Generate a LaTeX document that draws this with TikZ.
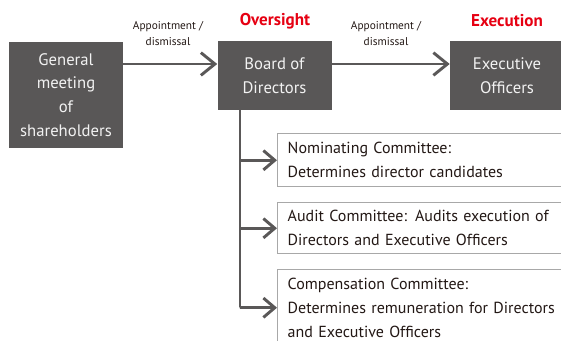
\documentclass[tikz,border=0pt]{standalone}
\usepackage{fontspec}
\setmainfont{PT Sans}
\usetikzlibrary{arrows.meta}
\definecolor{boxgray}{HTML}{595757}
\definecolor{linegray}{HTML}{5A5858}
\definecolor{bordergray}{HTML}{A8A8A8}
\definecolor{redtxt}{HTML}{E60012}
\definecolor{txtdark}{HTML}{231815}
\tikzset{
  darkbox/.style={fill=boxgray, draw=none, text=white!95!black, align=center,
    minimum width=114*0.75pt, inner sep=0pt, font=\fontsize{12.5}{18}\selectfont},
  combox/.style={draw=bordergray, line width=1.1pt, fill=white, anchor=north west,
    text width=300*0.75pt, align=left, inner xsep=7.5pt, inner ysep=0pt,
    text=txtdark, font=\fontsize{12}{18}\selectfont},
  conn/.style={draw=linegray, line width=2.2pt},
  arr/.style={conn, -{Straight Barb[length=10.5pt, width=17pt]}},
  arrsm/.style={conn, -{Straight Barb[length=8.5pt, width=14.5pt]}},
  lbl/.style={font=\fontsize{8.5}{12}\selectfont, align=center, text=txtdark},
  head/.style={font=\bfseries\fontsize{12.8}{14}\selectfont, text=redtxt}
}
\begin{document}
\begin{tikzpicture}[x=0.75pt, y=-0.75pt]
\useasboundingbox (0,0) rectangle (561,341);
\clip (0,0) rectangle (561,341);
\node[darkbox, minimum height=106*0.75pt, font=\fontsize{12.5}{17.8}\selectfont] (gm) at (66,95) {General\\meeting\\of\\shareholders};
\node[darkbox, minimum height=69*0.75pt] (bod) at (274.5,75.5) {Board of\\Directors};
\node[darkbox, minimum height=69*0.75pt] (exe) at (507,75.5) {Executive\\Officers};
\node[head] (ovs) at (275,21) {Oversight};
\node[head] (exc) at (507,21) {Execution};
\node[lbl] (l1) at (168,34) {Appointment /\\dismissal};
\node[lbl] (l2) at (386,34) {Appointment /\\dismissal};
\draw[arr] (gm.east |- 0,64) coordinate (a1s) -- (bod.west |- a1s);
\draw[arr] (bod.east |- 0,64) coordinate (a2s) -- (exe.west |- a2s);
\node[combox, minimum height=53*0.75pt] (c1) at (277,133) {Nominating Committee:\\Determines director candidates};
\node[combox, minimum height=51*0.75pt] (c2) at (277,202) {Audit Committee: Audits execution of\\Directors and Executive Officers};
\node[combox, minimum height=76*0.75pt] (c3) at (277,269) {Compensation Committee:\\Determines remuneration for Directors\\and Executive Officers};
\coordinate (trunk) at (240,110);
\draw[conn] (trunk) -- (trunk |- c3.west) -- ++(-0.1,0);
\draw[arrsm] (trunk |- c1.west) -- (c1.west);
\draw[arrsm] (trunk |- c2.west) -- (c2.west);
\draw[arrsm] (trunk |- c3.west) -- (c3.west);
\end{tikzpicture}
\end{document}
